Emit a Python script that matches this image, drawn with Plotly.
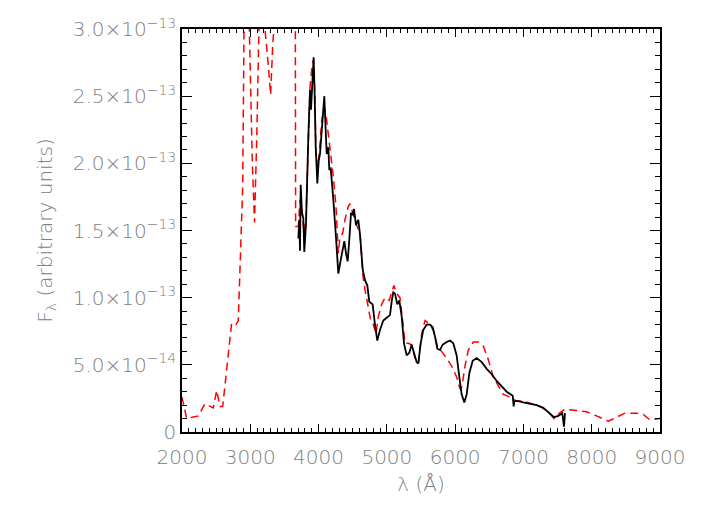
import plotly.graph_objects as go

SCALE = 1e-13

# observed spectrum (black), flux in units of 1e-13
obs_wave = [3704, 3718, 3728, 3738, 3757, 3777, 3791, 3816, 3850, 3875, 3889, 3909,
            3928, 3943, 3958, 3982, 4002, 4021, 4046, 4069, 4084, 4104, 4119, 4143,
            4157, 4177, 4192, 4216, 4255, 4289, 4324, 4353, 4377, 4402, 4426, 4450,
            4475, 4499, 4519, 4548, 4582, 4607, 4646, 4680, 4714, 4743, 4792, 4826,
            4860, 4899, 4948, 4997, 5046, 5070, 5094, 5119, 5153, 5182, 5217, 5251,
            5290, 5329, 5363, 5397, 5437, 5461, 5495, 5534, 5583, 5632, 5671, 5705,
            5739, 5778, 5817, 5876, 5925, 5973, 6022, 6061, 6095, 6134, 6169, 6208,
            6257, 6315, 6389, 6462, 6535, 6608, 6681, 6755, 6843, 6857, 6866, 6925,
            6998, 7096, 7194, 7291, 7389, 7448, 7511, 7569, 7594, 7609]
obs_flux = [1.44, 1.58, 1.35, 1.84, 1.63, 1.59, 1.34, 1.55, 2.20, 2.55, 2.40, 2.65,
            2.79, 2.50, 2.12, 1.85, 2.02, 2.07, 2.27, 2.41, 2.50, 2.25, 2.07, 2.12,
            1.95, 1.97, 1.85, 1.73, 1.45, 1.18, 1.28, 1.35, 1.42, 1.33, 1.27, 1.43,
            1.63, 1.62, 1.66, 1.54, 1.58, 1.47, 1.21, 1.13, 1.09, 0.97, 0.95, 0.80,
            0.68, 0.76, 0.83, 0.85, 0.87, 0.97, 1.04, 1.03, 0.95, 0.98, 0.86, 0.66,
            0.57, 0.59, 0.65, 0.59, 0.52, 0.51, 0.66, 0.76, 0.80, 0.80, 0.78, 0.71,
            0.62, 0.61, 0.65, 0.67, 0.68, 0.66, 0.57, 0.41, 0.28, 0.22, 0.28, 0.44,
            0.53, 0.55, 0.52, 0.47, 0.43, 0.38, 0.34, 0.30, 0.27, 0.19, 0.23, 0.23,
            0.22, 0.21, 0.20, 0.18, 0.14, 0.11, 0.12, 0.14, 0.04, 0.14]

# model spectrum (red dashed), flux in units of 1e-13
mod_wave = [2000, 2069, 2150, 2239, 2337, 2410, 2458, 2508, 2556, 2596, 2654, 2727,
            2790, 2824, 2849, 2889, 2908, 2930, 2970, 2986, 3030, 3062, 3095, 3132,
            3150, 3200, 3215, 3260, 3298, 3330, 3347, 3370, 3640, 3660, 3664, 3704,
            3728, 3753, 3787, 3816, 3850, 3875, 3899, 3924, 3943, 3962, 3982, 4011,
            4046, 4084, 4119, 4167, 4216, 4255, 4289, 4314, 4353, 4387, 4436, 4460,
            4499, 4548, 4607, 4650, 4680, 4763, 4802, 4841, 4875, 4924, 4973, 5036,
            5070, 5104, 5143, 5192, 5231, 5266, 5314, 5363, 5412, 5461, 5510, 5559,
            5607, 5680, 5739, 5802, 5876, 5949, 6022, 6071, 6100, 6144, 6193, 6266,
            6339, 6412, 6485, 6558, 6631, 6705, 6803, 6900, 6998, 7120, 7243, 7365,
            7448, 7526, 7609, 7780, 7926, 8072, 8243, 8365, 8487, 8658, 8755, 8853,
            9000]
mod_flux = [0.26, 0.10, 0.11, 0.12, 0.21, 0.19, 0.18, 0.31, 0.19, 0.19, 0.46, 0.81,
            0.80, 0.83, 1.21, 1.83, 3.0, 3.6, 3.6, 3.0, 2.0, 1.56, 2.2, 3.0,
            3.6, 3.6, 3.0, 2.75, 2.51, 2.9, 3.0, 3.6, 3.6, 3.0, 1.53, 1.53,
            1.73, 1.68, 1.48, 1.60, 2.25, 2.57, 2.70, 2.77, 2.57, 2.07, 1.97, 2.07,
            2.32, 2.42, 2.32, 2.12, 1.90, 1.68, 1.33, 1.45, 1.48, 1.58, 1.68, 1.70,
            1.63, 1.55, 1.48, 1.16, 1.06, 0.83, 0.80, 0.73, 0.86, 0.95, 1.00, 0.98,
            1.04, 1.09, 1.03, 1.00, 0.83, 0.66, 0.66, 0.65, 0.55, 0.51, 0.73, 0.83,
            0.81, 0.76, 0.64, 0.60, 0.55, 0.49, 0.41, 0.32, 0.34, 0.49, 0.61, 0.67,
            0.67, 0.64, 0.54, 0.41, 0.34, 0.28, 0.26, 0.23, 0.23, 0.21, 0.19, 0.15,
            0.10, 0.14, 0.17, 0.16, 0.15, 0.12, 0.08, 0.11, 0.14, 0.14, 0.13, 0.09,
            0.10]

y_tickvals = [0, 0.5, 1.0, 1.5, 2.0, 2.5, 3.0]
y_ticktext = ["0", "5.0×10<sup>−14</sup>", "1.0×10<sup>−13</sup>", "1.5×10<sup>−13</sup>",
              "2.0×10<sup>−13</sup>", "2.5×10<sup>−13</sup>", "3.0×10<sup>−13</sup>"]

GREY = "#808080"
FONT = dict(family="DejaVu Sans", size=20, color=GREY, weight=200)

fig = go.Figure()
fig.add_trace(go.Scatter(x=mod_wave, y=[f * SCALE for f in mod_flux], mode="lines",
                         line=dict(color="#ff0000", width=1.5, dash="8px,5px")))
fig.add_trace(go.Scatter(x=obs_wave, y=[f * SCALE for f in obs_flux], mode="lines",
                         line=dict(color="black", width=1.8)))

axis_common = dict(showgrid=False, zeroline=False, showline=True, linecolor="black",
                   linewidth=1.5, mirror="ticks", ticks="inside", tickcolor="black",
                   tickwidth=1.2, tickfont=FONT, automargin=False)

fig.update_xaxes(range=[2000, 9000], dtick=1000, ticklen=8, ticklabelstandoff=6,
                 minor=dict(ticks="inside", dtick=100, ticklen=4, tickcolor="black"),
                 title=dict(text="λ (Å)", font=FONT, standoff=9), **axis_common)
fig.update_yaxes(range=[0, 3e-13], tickvals=[v * SCALE for v in y_tickvals],
                 ticktext=y_ticktext, ticklen=10,
                 minor=dict(ticks="inside", dtick=1e-14, ticklen=5, tickcolor="black"),
                 title=dict(text="F<sub>λ</sub> (arbitrary units)", font=FONT, standoff=15),
                 **axis_common)

# page body adds an 8px offset, so the figure is 8px smaller than the window
fig.update_layout(width=698, height=512, showlegend=False,
                  margin=dict(l=174, r=46, t=21, b=88),
                  plot_bgcolor="white", paper_bgcolor="white")

fig.write_html("out.html")
